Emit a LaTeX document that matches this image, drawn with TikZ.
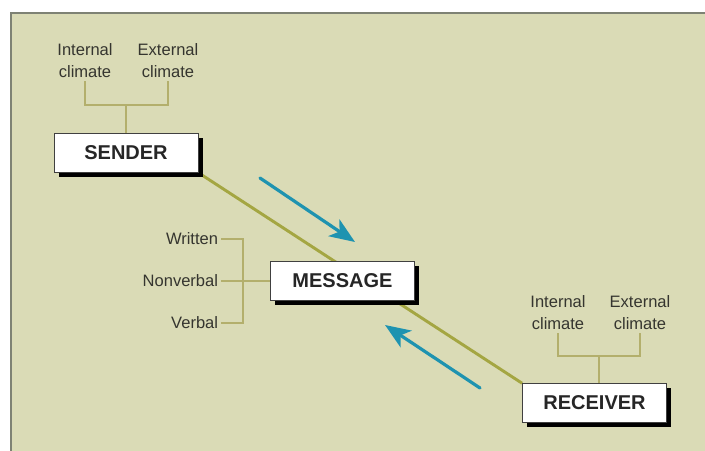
\documentclass[tikz,border=0pt]{standalone}
\usepackage{fontspec}
\setmainfont{Liberation Sans}
\usetikzlibrary{arrows.meta,shadows,backgrounds}
\definecolor{panelfill}{HTML}{DADBB6}
\definecolor{panelborder}{HTML}{7E8274}
\definecolor{linkgreen}{HTML}{A4A642}
\definecolor{bracketgreen}{HTML}{B3AF6C}
\definecolor{flowblue}{HTML}{1E93B0}
\definecolor{labelgray}{HTML}{35352F}
\tikzset{
  box/.style={draw=black!75, line width=0.6pt, fill=white,
    minimum width=108pt, minimum height=29pt, inner sep=0pt,
    font=\fontsize{15}{16}\selectfont\bfseries, text=black!85,
    drop shadow={shadow xshift=3.4pt, shadow yshift=-3.4pt, fill=black, opacity=1}},
  lbl/.style={font=\fontsize{12.4}{16.5}\selectfont, text=labelgray, align=center, inner sep=2pt},
  bracket/.style={draw=bracketgreen, line width=0.9pt},
  link/.style={draw=linkgreen, line width=2.2pt},
  flow/.style={draw=flowblue, line width=2.4pt, line cap=round,
    -{Stealth[length=19pt, width=15pt, inset=5pt]}}
}
\begin{document}
\begin{tikzpicture}[x=0.75pt, y=-0.75pt]
\useasboundingbox (0,0) rectangle (705,450);

% the three stages
\node[box] (sender)   at (126,153)   {SENDER};
\node[box] (message)  at (342.5,281) {MESSAGE};
\node[box] (receiver) at (594.5,403) {RECEIVER};

% climate labels
\node[lbl] (sint) at (85,61)  {Internal\\climate};
\node[lbl] (sext) at (168,61) {External\\climate};
\node[lbl] (rint) at (558,313) {Internal\\climate};
\node[lbl] (rext) at (640,313) {External\\climate};

% message kinds
\node[lbl, anchor=east] (written)   at (221,239) {Written};
\node[lbl, anchor=east] (nonverbal) at (221,281) {Nonverbal};
\node[lbl, anchor=east] (verbal)    at (221,323) {Verbal};

\coordinate (sjoin) at (126,105);
\coordinate (rjoin) at (599,356);
\coordinate (mjoin) at (243,281);

\begin{pgfonlayer}{background}
  \fill[white] (0,0) rectangle (705,450);
  \draw[panelborder, line width=1.8pt, fill=panelfill] (11,13) rectangle (720,465);
  \draw[link] (sender.south east) -- (receiver.north west);
\end{pgfonlayer}

% brackets
\draw[bracket] (sint.south) -- (sint.south |- sjoin) -- (sext.south |- sjoin) -- (sext.south);
\draw[bracket] (sjoin) -- (sjoin |- sender.north);
\draw[bracket] (rint.south) -- (rint.south |- rjoin) -- (rext.south |- rjoin) -- (rext.south);
\draw[bracket] (rjoin) -- (rjoin |- receiver.north);
\draw[bracket] (written.east) -- (written.east -| mjoin) -- (verbal.east -| mjoin) -- (verbal.east);
\draw[bracket] (nonverbal.east) -- (message.west);

% direction of flow
\coordinate (f1s) at (260,178);
\coordinate (f1e) at (355,242);
\coordinate (f2s) at (480,388);
\coordinate (f2e) at (385,325);
\draw[flow] (f1s) -- (f1e);
\draw[flow] (f2s) -- (f2e);
\end{tikzpicture}
\end{document}
